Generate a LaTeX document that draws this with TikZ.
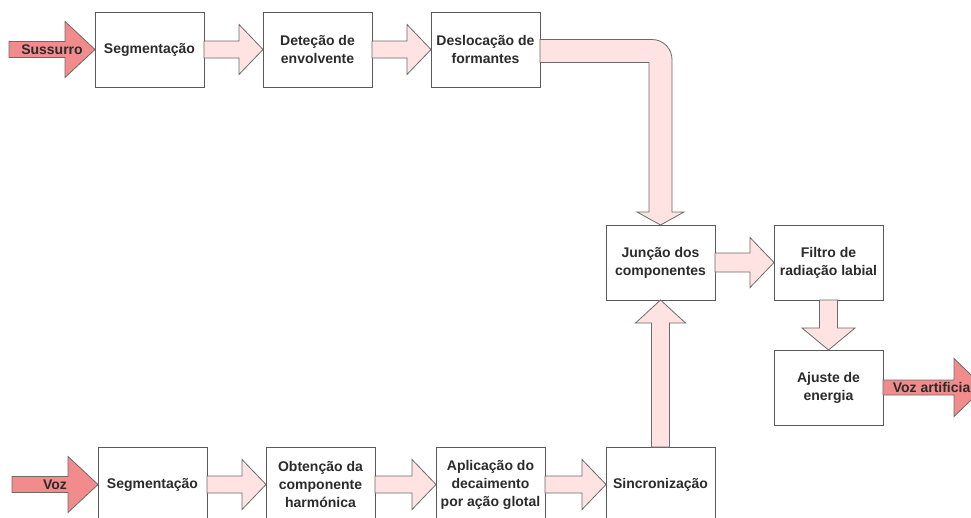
\documentclass[tikz,border=0pt]{standalone}
\usepackage{fontspec}
\setmainfont{Liberation Sans}
\usepackage{tikz}
\usetikzlibrary{positioning,calc}
\usepackage{xcolor}

\definecolor{pinkfill}{HTML}{FFE3E3}
\definecolor{redfill}{HTML}{F28C8C}
\definecolor{edgegray}{HTML}{5A5A5A}
\definecolor{txtgray}{HTML}{2B2B2B}

\tikzset{
  arrshaft/.store in=\arrshaft, arrhead/.store in=\arrhead, arrlen/.store in=\arrlen,
  arrshaft=8.5pt, arrhead=25pt, arrlen=24pt
}

\begin{document}
\begin{tikzpicture}[
  x=1pt, y=1pt,
  node distance=59pt,
  block/.style={draw=edgegray, line width=0.9pt, fill=white, minimum width=109pt,
                minimum height=75pt, outer sep=0pt, align=center, text=txtgray,
                font=\bfseries\fontsize{14}{18}\selectfont},
  blkarrow/.style={draw=edgegray!90, line width=0.8pt, fill=pinkfill, line join=miter,
    to path={
      -- ($(\tikztostart)!\arrshaft!90:(\tikztotarget)$)
      -- ($(\tikztotarget)!\arrlen!(\tikztostart)!\arrshaft!-90:(\tikztostart)$)
      -- ($(\tikztotarget)!\arrlen!(\tikztostart)!\arrhead!-90:(\tikztostart)$)
      -- (\tikztotarget)
      -- ($(\tikztotarget)!\arrlen!(\tikztostart)!\arrhead!90:(\tikztostart)$)
      -- ($(\tikztotarget)!\arrlen!(\tikztostart)!\arrshaft!90:(\tikztostart)$)
      -- ($(\tikztostart)!\arrshaft!-90:(\tikztotarget)$)
      -- cycle}},
  inarrow/.style={blkarrow, fill=redfill, arrshaft=8pt, arrhead=28pt, arrlen=30pt},
  inlbl/.style={text=txtgray, font=\bfseries\fontsize{14}{18}\selectfont}
]

\useasboundingbox (0,0) rectangle (971,-517);
\clip (0,0) rectangle (971,-517);

% Sussurro branch
\node[block] (seg1) at (149.5,-49.5) {Segmentação};
\node[block, right=of seg1] (det) {Deteção de\\envolvente};
\node[block, right=of det] (desl) {Deslocação de\\formantes};

% Join and output
\node[block, below right=138pt and 66pt of desl] (junc) {Junção dos\\componentes};
\node[block, right=of junc] (filtro) {Filtro de\\radiação labial};
\node[block, below=50pt of filtro] (ajuste) {Ajuste de\\energia};

% Voz branch
\node[block, below=147pt of junc] (sinc) {Sincronização};
\node[block, left=61pt of sinc] (apl) {Aplicação do\\decaimento\\por ação glotal};
\node[block, left=61pt of apl] (obt) {Obtenção da\\componente\\harmónica};
\node[block, left=of obt] (seg2) {Segmentação};

% Ends of the in/out arrows
\coordinate[left=86pt of seg1.west] (sus);
\coordinate[left=86pt of seg2.west] (voz);
\coordinate[right=101pt of ajuste.east] (vart);

% Arrows
\draw[inarrow] (sus) to (seg1.west);
\draw[blkarrow] (seg1.east) to (det.west);
\draw[blkarrow] (det.east) to (desl.west);
\draw[blkarrow] ($(desl.east)+(0,10)$) -- ($(junc.north |- desl.east)+(-8.5,10)$)
  to[out=0,in=90] ($(junc.north |- desl.east)+(11.5,-10)$)
  -- ($(junc.north)+(11.5,13)$) -- ($(junc.north)+(23.5,13)$) -- (junc.north)
  -- ($(junc.north)+(-23.5,13)$) -- ($(junc.north)+(-11.5,13)$)
  -- ($(junc.north |- desl.east)+(-11.5,-13)$) -- ($(desl.east)+(0,-13)$) -- cycle;
\draw[blkarrow, arrshaft=9.5pt] (junc.east) to (filtro.west);
\draw[blkarrow, arrshaft=9pt, arrhead=26.5pt, arrlen=22pt] (filtro.south) to (ajuste.north);
\draw[inarrow, arrshaft=7.5pt, arrhead=29pt] (ajuste.east) to (vart);

\draw[inarrow] (voz) to (seg2.west);
\draw[blkarrow] (seg2.east) to (obt.west);
\draw[blkarrow] (obt.east) to (apl.west);
\draw[blkarrow] (apl.east) to (sinc.west);
\draw[blkarrow, arrshaft=9pt, arrlen=23pt] (sinc.north) to (junc.south);

% Arrow labels
\node[inlbl] (lsus) at ($(sus)!0.5!(seg1.west)$) {Sussurro};
\node[inlbl] (lvoz) at ($(voz)!0.5!(seg2.west)$) {Voz};
\node[inlbl] (lvart) at ($(ajuste.east)!0.5!(vart)$) {Voz artificial};

\end{tikzpicture}
\end{document}
